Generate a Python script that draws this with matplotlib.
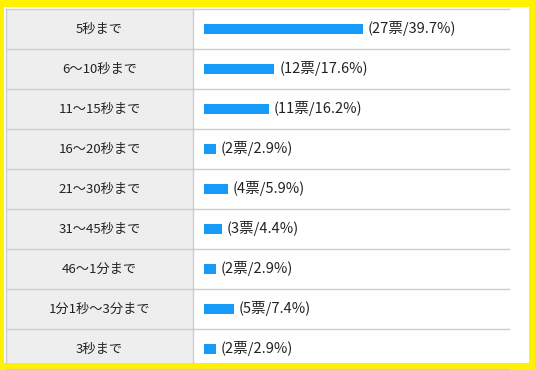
import matplotlib.pyplot as plt
from matplotlib.patches import Rectangle

plt.rcParams['font.family'] = ['Noto Sans CJK JP', 'DejaVu Sans']

labels = ['5秒まで', '6～10秒まで', '11～15秒まで', '16～20秒まで', '21～30秒まで',
          '31～45秒まで', '46～1分まで', '1分1秒～3分まで', '3秒まで']
votes = [27, 12, 11, 2, 4, 3, 2, 5, 2]
percents = [39.7, 17.6, 16.2, 2.9, 5.9, 4.4, 2.9, 7.4, 2.9]

W, H = 535, 370
yellow = '#fff200'
grid_c = '#cccccc'
bar_c = '#169bf8'
text_c = '#222222'

fig = plt.figure(figsize=(W / 100, H / 100), dpi=100, facecolor=yellow)

# white inner area inside the yellow frame
fig.add_artist(Rectangle((4 / W, 7 / H), 525 / W, 356 / H, transform=fig.transFigure,
                         facecolor='white', edgecolor='none', zorder=-5))

n = len(labels)
ybottom = -0.5 + 354 / 40  # table is cut by the frame

ax_l = fig.add_axes([6 / W, 7 / H, 187 / W, 354 / H])
ax_r = fig.add_axes([193 / W, 7 / H, 316 / W, 354 / H])

ax_l.set_facecolor('#eeeeee')
ax_r.set_facecolor('white')

for ax in (ax_l, ax_r):
    ax.set_ylim(ybottom, -0.5)
    ax.set_xticks([])
    ax.set_yticks([])
    for side, s in ax.spines.items():
        s.set_visible(side == 'left')
        s.set_color(grid_c)
        s.set_linewidth(1.0)
    for i in range(n + 1):
        ax.axhline(i - 0.5, color=grid_c, lw=1.0, clip_on=False)

ax_l.set_xlim(0, 1)
for i, lab in enumerate(labels):
    ax_l.text(0.5, i, lab, ha='center', va='center', fontsize=9.5, color=text_c)

# 4 px per percent, bars start 11 px right of the divider
ax_r.set_xlim(-11 / 4, 305 / 4)
ax_r.barh(range(n), percents, height=0.25, color=bar_c)
for i, (v, p) in enumerate(zip(votes, percents)):
    ax_r.text(p + 1.25, i, f'({v}票/{p}%)', ha='left', va='center',
              fontsize=10.5, color=text_c)

fig.savefig('out.png', dpi=100, facecolor=yellow)
